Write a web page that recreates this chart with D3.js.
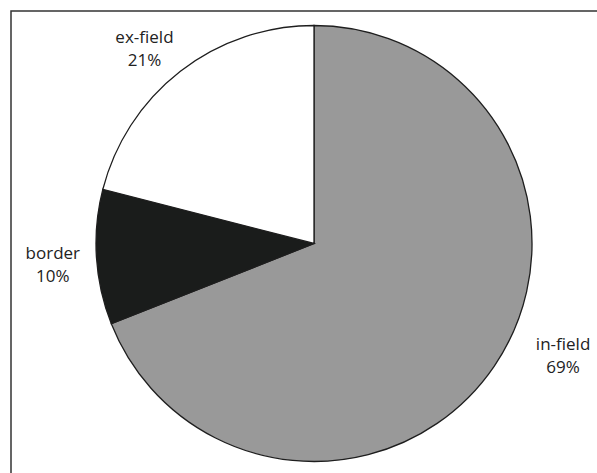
<!DOCTYPE html>
<html>
<head>
<meta charset="UTF-8">
<title>Pie</title>
<style>
    body { margin: 0; background: #fff; }
    .lbl { font-family: "Open Sans", sans-serif; font-size: 17px; fill: #222; text-anchor: middle; dominant-baseline: central; }
</style>
<script src="https://d3js.org/d3.v7.min.js"></script>
</head>
<body>
<svg id="grafico" width="597" height="473"></svg>
<script>
const categorias = ['in-field', 'border', 'ex-field'];
const valores = [69, 10, 21];
const cores = ['#999999', '#1a1c1b', '#ffffff'];

const svg = d3.select('#grafico');
const cx = 314, cy = 243.5, raio = 218;

// moldura (cortada a direita e embaixo)
svg.append('path')
    .attr('d', 'M11,480 L11,11 L610,11')
    .attr('fill', 'none')
    .attr('stroke', '#333')
    .attr('stroke-width', 1.5);

const dados = categorias.map((c, i) => ({ cat: c, val: valores[i], cor: cores[i] }));
const pie = d3.pie().value(d => d.val).sort(null);
const arco = d3.arc().innerRadius(0).outerRadius(raio);

const g = svg.append('g').attr('transform', `translate(${cx},${cy})`);
const fatias = pie(dados);

g.selectAll('path.fatia')
    .data(fatias)
    .enter()
    .append('path')
    .classed('fatia', true)
    .attr('d', arco)
    .attr('fill', d => d.data.cor)
    .attr('stroke', '#1e1e1e')
    .attr('stroke-width', 1.3);

// rotulos fora da pizza: desvio de angulo (rad) e raio de cada um
const ajuste = {
    'in-field': { da: -0.175, r: 273 },
    'border': { da: -0.016, r: 262 },
    'ex-field': { da: -0.054, r: 259 }
};
const rot = g.selectAll('g.rot')
    .data(fatias)
    .enter()
    .append('g')
    .classed('rot', true)
    .attr('transform', d => {
        const aj = ajuste[d.data.cat];
        const a = (d.startAngle + d.endAngle) / 2 + aj.da;
        return `translate(${aj.r * Math.sin(a)},${-aj.r * Math.cos(a)})`;
    });
rot.append('text').classed('lbl', true).attr('y', -11.5).text(d => d.data.cat);
rot.append('text').classed('lbl', true).attr('y', 11.5).text(d => d.data.val + '%');
</script>
</body>
</html>
